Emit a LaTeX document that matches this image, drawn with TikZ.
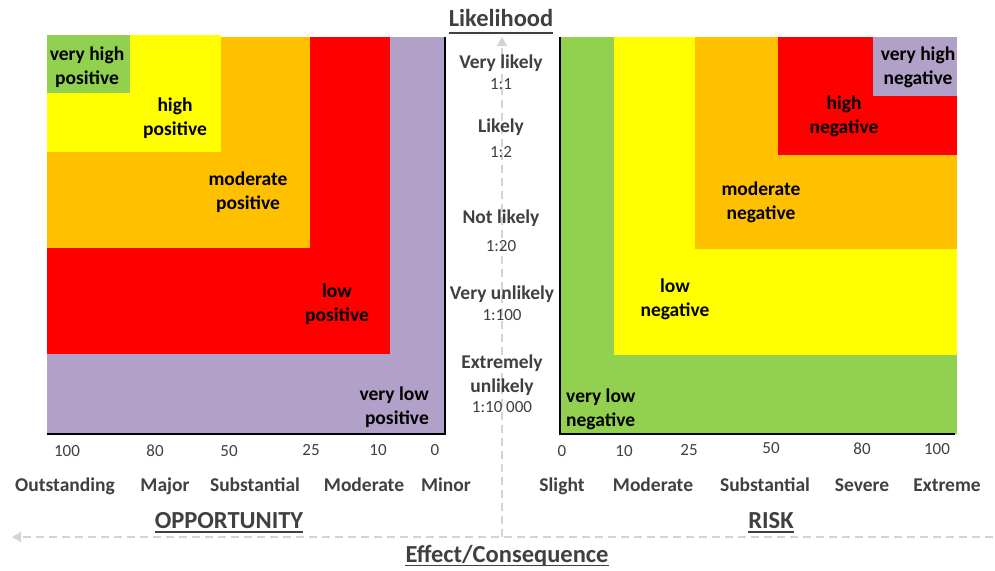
\documentclass[tikz,border=0pt]{standalone}
\usepackage{fontspec}
\setmainfont{Carlito}
\usetikzlibrary{arrows.meta}
\definecolor{cgreen}{HTML}{92D050}
\definecolor{cyellow}{HTML}{FFFF00}
\definecolor{corange}{HTML}{FFC000}
\definecolor{cred}{HTML}{FF0000}
\definecolor{cpurple}{HTML}{B1A0C7}
\definecolor{tgray}{HTML}{404040}
\definecolor{agray}{HTML}{D4D4D4}
\begin{document}
\begin{tikzpicture}[x=1pt,y=-1pt,
 region/.style={font=\fontsize{19.5}{24}\selectfont\bfseries, text=black, align=center, inner sep=0pt},
 likel/.style={font=\fontsize{19.5}{23}\selectfont\bfseries, text=tgray, inner sep=0pt},
 ratio/.style={font=\fontsize{17}{20}\selectfont, text=tgray, inner sep=0pt},
 tick/.style={font=\fontsize{17}{20}\selectfont, text=tgray, inner sep=0pt},
 cat/.style={font=\fontsize{19.5}{23}\selectfont\bfseries, text=tgray, inner sep=0pt, anchor=base},
 title/.style={font=\fontsize{24.5}{28}\selectfont\bfseries, text=tgray, inner sep=0pt, anchor=base},
 ul/.style={draw=tgray, line width=1.4pt},
 axisline/.style={draw=black, line width=1.6pt},
 guide/.style={draw=agray, line width=1.5pt, dash pattern=on 8pt off 5pt, -{Triangle[width=10pt,length=9pt]}}
]
\useasboundingbox[fill=white] (0,0) rectangle (995,570);

% guides
\coordinate (hstart) at (993,537);
\coordinate (hend) at (12,537);
\coordinate (vstart) at (502,537);
\coordinate (vend) at (502,37);
\draw[guide] (hstart) -- (hend);
\draw[guide] (vstart) -- (vend);

% left chart (opportunity)
\fill[cpurple] (47,37) rectangle (445,434);
\fill[cred] (47,37) rectangle (390,354);
\fill[corange] (47,37) rectangle (310,248);
\fill[cyellow] (47,35) rectangle (221,152);
\fill[cgreen] (47,35) rectangle (130,93);
\coordinate (lo) at (445,434);
\coordinate (ltop) at (445,37);
\coordinate (lleft) at (47,434);
\draw[axisline] (ltop) -- (lo) -- (lleft);

% right chart (risk)
\fill[cgreen] (560,37) rectangle (957,434);
\fill[cyellow] (614,37) rectangle (957,355);
\fill[corange] (695,37) rectangle (957,249);
\fill[cred] (778,37) rectangle (957,155);
\fill[cpurple] (873,37) rectangle (957,96);
\coordinate (ro) at (560,434);
\coordinate (rtop) at (560,37);
\coordinate (rright) at (955,434);
\draw[axisline] (rtop) -- (ro) -- (rright);

% region labels left
\node[region] (vhp) at (87,67) {very high\\positive};
\node[region] (hp) at (175,118) {high\\positive};
\node[region] (mp) at (248,192) {moderate\\positive};
\node[region] (lp) at (337,304) {low\\positive};
\node[region, align=right, anchor=east] (vlp) at (429,407) {very low\\positive};

% region labels right
\node[region] (vhn) at (918,67) {very high\\negative};
\node[region] (hn) at (844,116) {high\\negative};
\node[region] (mn) at (761,202) {moderate\\negative};
\node[region] (ln) at (675,299) {low\\negative};
\node[region, align=left, anchor=west] (vln) at (566,409) {very low\\negative};

% likelihood column
\node[title] (lik) at (501,27) {Likelihood};
\draw[ul] ([yshift=-6pt]lik.base west) -- ([yshift=-6pt]lik.base east);
\node[likel] (l1) at (501,63) {Very likely};
\node[ratio] (r1) at (501,84) {1:1};
\node[likel] (l2) at (501,127) {Likely};
\node[ratio] (r2) at (501,152) {1:2};
\node[likel] (l3) at (501,218) {Not likely};
\node[ratio] (r3) at (501,246) {1:20};
\node[likel] (l4) at (502,294) {Very unlikely};
\node[ratio] (r4) at (502,315) {1:100};
\node[likel] (l5a) at (502,363) {Extremely};
\node[likel] (l5b) at (502,387) {unlikely};
\node[ratio] (r5) at (502,407) {1:10 000};

% left ticks
\node[tick] (t100l) at (67,451) {100};
\node[tick] (t80l) at (155,451) {80};
\node[tick] (t50l) at (229,451) {50};
\node[tick] (t25l) at (311,450) {25};
\node[tick] (t10l) at (378,450) {10};
\node[tick] (t0l) at (435,450) {0};
% left categories
\node[cat] (c1) at (65,491) {Outstanding};
\node[cat] (c2) at (165,491) {Major};
\node[cat] (c3) at (255,491) {Substantial};
\node[cat] (c4) at (364,491) {Moderate};
\node[cat] (c5) at (446,491) {Minor};

% right ticks
\node[tick] (t0r) at (562,451) {0};
\node[tick] (t10r) at (624,451) {10};
\node[tick] (t25r) at (689,450) {25};
\node[tick] (t50r) at (771,448) {50};
\node[tick] (t80r) at (862,449) {80};
\node[tick] (t100r) at (937,449) {100};
% right categories
\node[cat] (d1) at (562,491) {Slight};
\node[cat] (d2) at (653,491) {Moderate};
\node[cat] (d3) at (765,491) {Substantial};
\node[cat] (d4) at (862,491) {Severe};
\node[cat] (d5) at (947,491) {Extreme};

% titles
\node[title] (opp) at (229,528) {OPPORTUNITY};
\draw[ul] ([yshift=-4pt]opp.base west) -- ([yshift=-4pt]opp.base east);
\node[title] (risk) at (771,528) {RISK};
\draw[ul] ([yshift=-4pt]risk.base west) -- ([yshift=-4pt]risk.base east);
\node[title] (eff) at (507,562) {Effect/Consequence};
\draw[ul] ([yshift=-3.5pt]eff.base west) -- ([yshift=-3.5pt]eff.base east);
\end{tikzpicture}
\end{document}
